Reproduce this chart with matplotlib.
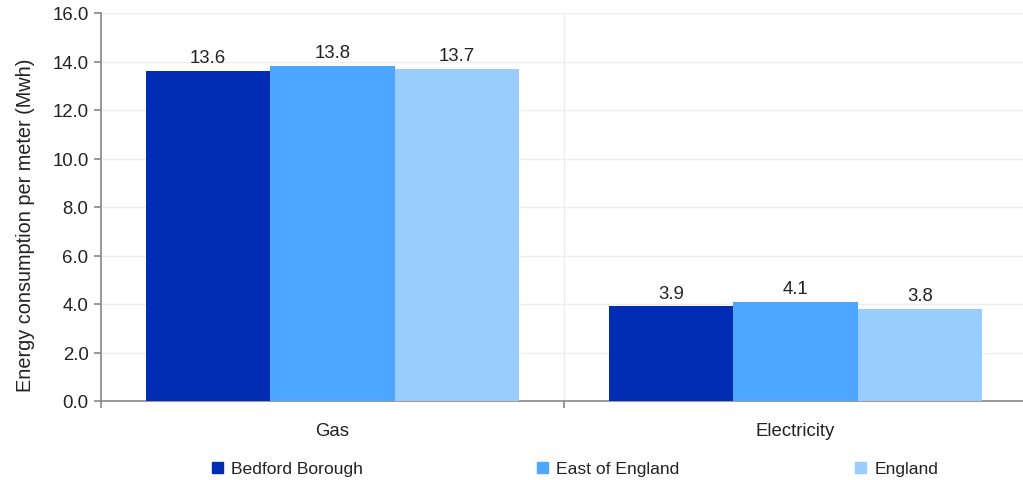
import matplotlib.pyplot as plt
import numpy as np
from matplotlib.patches import Patch

plt.rcParams['font.family'] = ['Liberation Sans', 'DejaVu Sans']

categories = ["Gas", "Electricity"]
series = ["Bedford Borough", "East of England", "England"]
bedford = [13.6, 3.9]
east = [13.8, 4.1]
england = [13.7, 3.8]
colors = ["#002db3", "#4da6ff", "#99ccff"]

fs = 13.4
fig = plt.figure(figsize=(10.23, 4.81), dpi=100)
ax = fig.add_axes([101 / 1023, 79 / 481, 926 / 1023, 388 / 481])

x = np.arange(len(categories))
w = 0.269
for i, (vals, c) in enumerate(zip([bedford, east, england], colors)):
    bars = ax.bar(x + (i - 1) * w, vals, w, color=c, zorder=3)
    for b, v in zip(bars, vals):
        ax.text(b.get_x() + b.get_width() / 2, v + 0.2, f"{v:.1f}",
                ha="center", va="bottom", fontsize=fs, color="#222222")

ax.set_xlim(-0.5, 1.5)
ax.set_ylim(0, 16)
ax.set_yticks(np.arange(0, 17, 2))
ax.set_yticklabels([f"{v:.1f}" for v in np.arange(0, 17, 2)])
ax.set_xticks(x)
ax.set_xticklabels(categories)
ax.set_xticks([-0.5, 0.5, 1.5], minor=True)
ax.tick_params(axis="x", which="major", length=0, pad=15, labelsize=fs, colors="#222222")
ax.tick_params(axis="x", which="minor", length=5, color="#888888", width=1.2)
ax.tick_params(axis="y", length=5, color="#888888", width=1.2, pad=4, labelsize=fs, labelcolor="#222222")

ax.grid(axis="y", color="#eeeeee", lw=1, zorder=0)
ax.grid(axis="x", which="minor", color="#eeeeee", lw=1, zorder=0)
ax.grid(axis="x", which="major", visible=False)
for s in ["top", "right"]:
    ax.spines[s].set_visible(False)
for s in ["left", "bottom"]:
    ax.spines[s].set_color("#888888")
    ax.spines[s].set_linewidth(1.2)

ax.set_ylabel("Energy consumption per meter (Mwh)", fontsize=14.3, color="#222222")
ax.yaxis.set_label_coords(-66 / 926, (402 - 225) / 388)

leg_x = [205, 530, 848]
for name, c, lx in zip(series, colors, leg_x):
    lg = fig.legend(handles=[Patch(color=c, label=name)], loc="center left",
                    bbox_to_anchor=(lx / 1023, 1 - 470 / 481), frameon=False,
                    handlelength=0.6, handleheight=0.6, handletextpad=0.5,
                    borderaxespad=0, fontsize=12.6)
    for t in lg.get_texts():
        t.set_color("#222222")

fig.savefig("out.png", dpi=100)
